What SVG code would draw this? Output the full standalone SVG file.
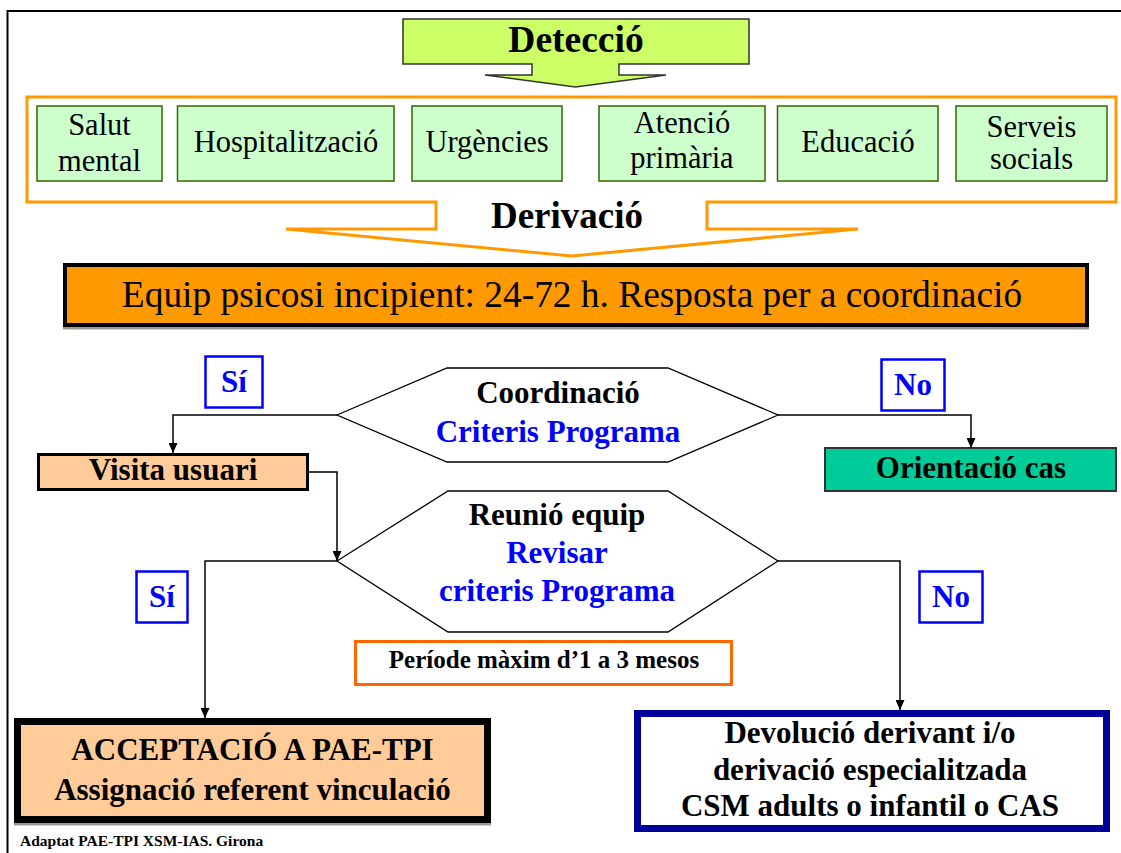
<svg xmlns="http://www.w3.org/2000/svg" width="1121" height="853" viewBox="0 0 1121 853">
<style>
text{font-family:"Liberation Serif","Times New Roman",serif;text-anchor:middle;fill:#000}
.b{font-weight:bold;font-size:31px}
.r{font-size:30.5px}
.blue{fill:#0000FF}
.src{fill:#CCFFCC;stroke:#336600;stroke-width:1.5}
.lbl{fill:#fff;stroke:#0000FF;stroke-width:2.5}
.hex{fill:#fff;stroke:#000;stroke-width:1.3}
.conn{fill:none;stroke:#000;stroke-width:1.5;marker-end:url(#ah)}
</style>
<defs>
<marker id="ah" markerUnits="userSpaceOnUse" markerWidth="10" markerHeight="9" refX="10" refY="4.5" orient="auto">
<path d="M0,0 L10,4.5 L0,9 Z" fill="#000"/>
</marker>
</defs>
<rect width="1121" height="853" fill="#fff"/>
<path d="M7.5,853 V11 H1121" fill="none" stroke="#000" stroke-width="2"/>

<g id="deteccio">
<path d="M403,19 H749 V64 H619 V75 H666 L575.5,87 L485,75 H532 V64 H403 Z" fill="#CCFF66" stroke="#333" stroke-width="1.5"/>
<text x="576" y="52" style="font-weight:bold;font-size:37.5px">Detecció</text>
</g>

<g id="derivacio">
<path d="M27,97 H1116 V202 H707 V229 H858 L572,256 L286,229 H436 V202 H27 Z" fill="#fff" stroke="#FF9900" stroke-width="3"/>
<text x="567" y="228" style="font-weight:bold;font-size:37px">Derivació</text>
</g>

<g id="salut">
<rect class="src" x="37" y="106" width="125" height="75"/>
<text class="r" x="99.5" y="135">Salut</text>
<text class="r" x="99.5" y="171">mental</text>
</g>
<g id="hospitalitzacio">
<rect class="src" x="177.5" y="106" width="216.5" height="75"/>
<text class="r" x="286" y="152">Hospitalització</text>
</g>
<g id="urgencies">
<rect class="src" x="412" y="106" width="150" height="75"/>
<text class="r" x="487" y="152">Urgències</text>
</g>
<g id="atencio">
<rect class="src" x="599" y="106" width="166" height="75"/>
<text class="r" x="682" y="133">Atenció</text>
<text class="r" x="682" y="168">primària</text>
</g>
<g id="educacio">
<rect class="src" x="777.5" y="106" width="160.5" height="75"/>
<text class="r" x="858" y="152">Educació</text>
</g>
<g id="serveis">
<rect class="src" x="956" y="106" width="151" height="75"/>
<text class="r" x="1031.5" y="137">Serveis</text>
<text class="r" x="1031.5" y="169">socials</text>
</g>

<g id="equip">
<rect x="63" y="327" width="1026" height="2.5" fill="#999"/>
<rect x="65" y="265" width="1022" height="60" fill="#FF9900" stroke="#000" stroke-width="4"/>
<text x="572" y="307" style="font-size:37.4px">Equip psicosi incipient: 24-72 h. Resposta per a coordinació</text>
</g>

<g id="coordinacio">
<polygon class="hex" points="337,415 447,368 668,368 778,415 668,462 447,462"/>
<text class="b" x="558" y="403">Coordinació</text>
<text class="b blue" x="558" y="442">Criteris Programa</text>
</g>

<g id="si1">
<rect class="lbl" x="205.5" y="356.5" width="57" height="51"/>
<text class="b blue" x="234" y="392">Sí</text>
</g>
<g id="no1">
<rect class="lbl" x="881.5" y="359.5" width="63" height="51"/>
<text class="b blue" x="913" y="395">No</text>
</g>

<g id="visita">
<rect x="38.5" y="454.5" width="269" height="35" fill="#FFCC99" stroke="#000" stroke-width="3"/>
<text class="b" x="173" y="480">Visita usuari</text>
</g>

<g id="orientacio">
<rect x="825" y="448" width="291" height="43" fill="#00CC99" stroke="#333" stroke-width="2"/>
<text class="b" x="971" y="478">Orientació cas</text>
</g>

<g id="reunio">
<polygon class="hex" points="337,561 448,491 668,491 778,561 668,632 448,632"/>
<text class="b" x="557" y="525">Reunió equip</text>
<text class="b blue" x="557" y="563">Revisar</text>
<text class="b blue" x="557" y="601">criteris Programa</text>
</g>

<g id="si2">
<rect class="lbl" x="136.5" y="571.5" width="51" height="51"/>
<text class="b blue" x="162" y="607">Sí</text>
</g>
<g id="no2">
<rect class="lbl" x="919.5" y="571.5" width="63" height="51"/>
<text class="b blue" x="951" y="607">No</text>
</g>

<g id="periode">
<rect x="355.5" y="641.5" width="376" height="43" fill="#fff" stroke="#FF6600" stroke-width="3"/>
<text x="544" y="668" style="font-weight:bold;font-size:25px">Període màxim d’1 a 3 mesos</text>
</g>

<g id="acceptacio">
<rect x="14" y="823" width="477" height="2.5" fill="#999"/>
<rect x="17.5" y="721.5" width="470" height="98" fill="#FFCC99" stroke="#000" stroke-width="7"/>
<text class="b" x="252.5" y="760">ACCEPTACIÓ A PAE-TPI</text>
<text class="b" x="252.5" y="800">Assignació referent vinculació</text>
</g>

<g id="devolucio">
<rect x="637.5" y="713.5" width="469" height="115" fill="#fff" stroke="#000099" stroke-width="7"/>
<text class="b" x="870" y="743">Devolució derivant i/o</text>
<text class="b" x="870" y="780">derivació especialitzada</text>
<text class="b" x="870" y="816">CSM adults o infantil o CAS</text>
</g>

<g id="connectors">
<path class="conn" d="M337,415 H173 V453"/>
<path class="conn" d="M778,415 H971 V448"/>
<path class="conn" d="M307,472 H337 V561"/>
<path class="conn" d="M337,561 H205 V718"/>
<path class="conn" d="M778,561 H900 V710"/>
</g>

<text x="20" y="846" style="font-weight:bold;font-size:15.5px;text-anchor:start">Adaptat PAE-TPI XSM-IAS. Girona</text>
</svg>
